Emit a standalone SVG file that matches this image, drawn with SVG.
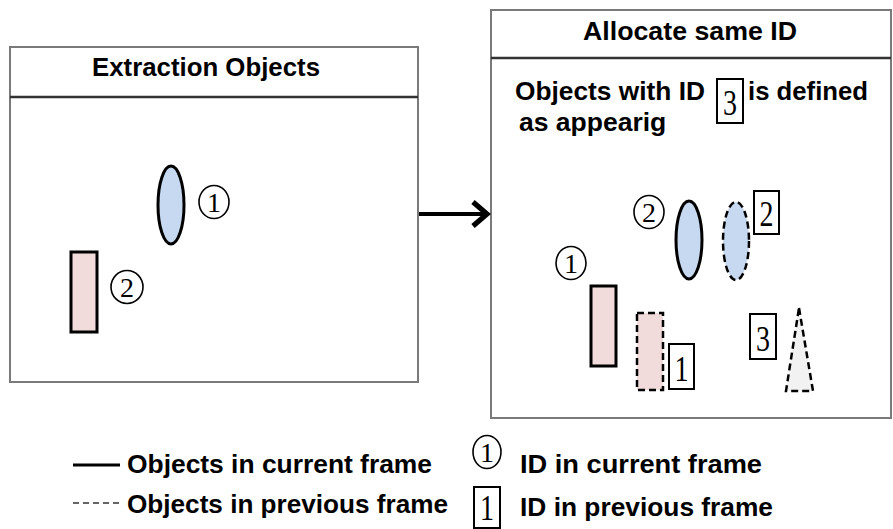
<svg xmlns="http://www.w3.org/2000/svg" width="893" height="529" viewBox="0 0 893 529">
<style>
.frame{fill:#fff;stroke:#7a7a7a;stroke-width:2}
.hdr{stroke:#333;stroke-width:2.5}
.t{font-family:"Liberation Sans",Arial,sans-serif;font-weight:bold;font-size:26.5px;fill:#000}
.num{font-family:"Liberation Serif","Times New Roman",serif;font-size:28px;fill:#000;text-anchor:middle}
.cid{fill:#fff;stroke:#000;stroke-width:1.6}
.bid{fill:#fff;stroke:#000;stroke-width:2}
.solid{stroke:#000;stroke-width:3}
.dash{stroke:#000;stroke-width:2.5;stroke-dasharray:7 4}
.blue{fill:#c6d9f0}
.pink{fill:#f2dcdb}
.grey{fill:#f2f2f2}
</style>
<defs>
<marker id="ah" markerWidth="6" markerHeight="8" refX="4.5" refY="4" orient="auto" markerUnits="strokeWidth">
<path d="M1,1 L4.5,4 L1,7" fill="none" stroke="#000" stroke-width="1.3"/>
</marker>
</defs>
<rect width="893" height="529" fill="#fff"/>

<g id="extraction">
<rect class="frame" x="10" y="47" width="408" height="335"/>
<line class="hdr" x1="10" y1="97" x2="418" y2="97"/>
<text class="t" x="92" y="76" textLength="228" lengthAdjust="spacingAndGlyphs">Extraction Objects</text>
<ellipse class="blue solid" cx="171" cy="205" rx="13" ry="39"/>
<ellipse class="cid" cx="214" cy="202" rx="15" ry="16.5"/>
<text class="num" x="214" y="212">1</text>
<rect class="pink solid" x="71" y="252" width="26" height="80"/>
<ellipse class="cid" cx="127" cy="287" rx="16" ry="16.5"/>
<text class="num" x="127" y="297">2</text>
</g>

<g id="allocate">
<rect class="frame" x="491" y="10" width="400" height="408"/>
<line class="hdr" x1="491" y1="58" x2="891" y2="58"/>
<text class="t" x="583" y="40" textLength="214" lengthAdjust="spacingAndGlyphs">Allocate same ID</text>
<text class="t" x="515" y="100" textLength="190" lengthAdjust="spacingAndGlyphs">Objects with ID</text>
<rect class="bid" x="717" y="79" width="26" height="44"/>
<text class="num" x="730" y="115" transform="translate(730,115) scale(1,1.3) translate(-730,-115)">3</text>
<text class="t" x="748" y="100" textLength="120" lengthAdjust="spacingAndGlyphs">is defined</text>
<text class="t" x="519" y="131">as appearig</text>

<ellipse class="cid" cx="649" cy="212" rx="15" ry="16.5"/>
<text class="num" x="649" y="222">2</text>
<ellipse class="blue solid" cx="689" cy="240" rx="13" ry="39"/>
<ellipse class="blue dash" cx="736" cy="241" rx="13" ry="39"/>
<rect class="bid" x="754" y="191" width="25" height="43"/>
<text class="num" x="766.5" y="226" transform="translate(766.5,226) scale(1,1.3) translate(-766.5,-226)">2</text>

<ellipse class="cid" cx="571" cy="263" rx="15" ry="16.5"/>
<text class="num" x="571" y="273">1</text>
<rect class="pink solid" x="591" y="286" width="25" height="80"/>
<rect class="pink dash" x="637" y="313" width="26" height="77"/>
<rect class="bid" x="669" y="344" width="25" height="45"/>
<text class="num" x="681.5" y="381" transform="translate(681.5,381) scale(1,1.3) translate(-681.5,-381)">1</text>

<rect class="bid" x="750" y="314" width="26" height="45"/>
<text class="num" x="763" y="351" transform="translate(763,351) scale(1,1.3) translate(-763,-351)">3</text>
<polygon class="grey dash" points="799,308 813,391 786,391"/>
</g>

<g id="connectors">
<line x1="419" y1="214" x2="487" y2="214" stroke="#000" stroke-width="4" marker-end="url(#ah)"/>
</g>

<g id="legend">
<line x1="73" y1="465" x2="120" y2="465" stroke="#000" stroke-width="3"/>
<text class="t" x="127" y="473" textLength="305" lengthAdjust="spacingAndGlyphs">Objects in current frame</text>
<line x1="73" y1="503" x2="122" y2="503" stroke="#333" stroke-width="1.5" stroke-dasharray="6 4"/>
<text class="t" x="127" y="513" textLength="321" lengthAdjust="spacingAndGlyphs">Objects in previous frame</text>
<ellipse class="cid" cx="487" cy="452" rx="14" ry="16.5"/>
<text class="num" x="487" y="462">1</text>
<text class="t" x="520" y="473" textLength="242" lengthAdjust="spacingAndGlyphs">ID in current frame</text>
<rect class="bid" x="474" y="487" width="26" height="41"/>
<text class="num" x="487" y="520" transform="translate(487,520) scale(1,1.3) translate(-487,-520)">1</text>
<text class="t" x="520" y="516" textLength="253" lengthAdjust="spacingAndGlyphs">ID in previous frame</text>
</g>
</svg>
